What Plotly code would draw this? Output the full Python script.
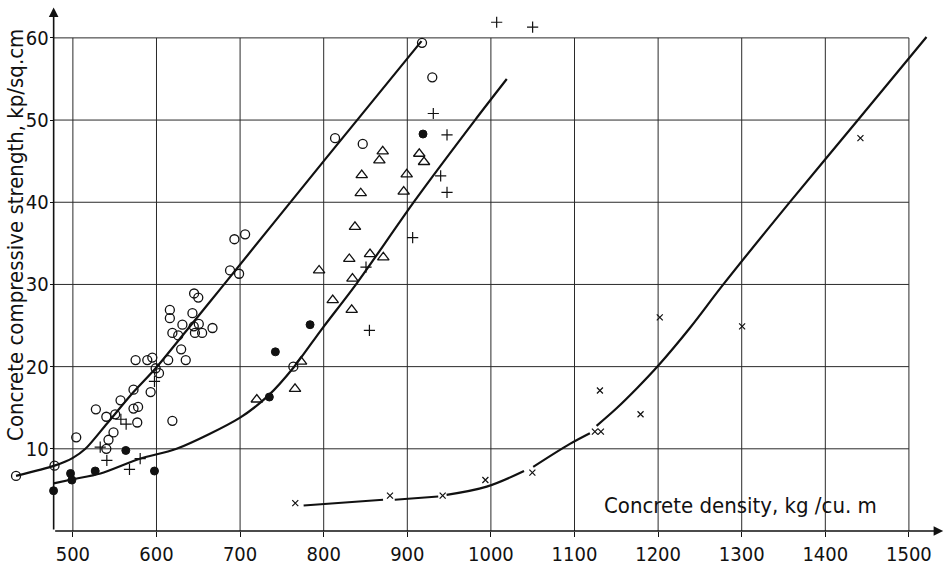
import plotly.graph_objects as go

# ---------------- data ----------------
X_TICKS = [500, 600, 700, 800, 900, 1000, 1100, 1200, 1300, 1400, 1500]
Y_TICKS = [10, 20, 30, 40, 50, 60]

open_circle_x = [432, 478, 504, 527.5, 540, 550.6, 557, 572.5, 575, 540, 542.6, 548.6, 572.5, 578, 577,
                 589, 595, 593, 599, 603, 614, 616, 616, 619, 626, 631, 629.5, 635, 619, 643, 645, 650,
                 644.6, 650.6, 646, 654.6, 667, 693.2, 706, 688, 698.8, 763.7, 813.6, 846.7, 917.6, 929.9]
open_circle_y = [6.7, 7.95, 11.4, 14.8, 13.9, 14.2, 15.9, 17.2, 20.8, 10.0, 11.1, 12.0, 14.9, 15.1, 13.2,
                 20.8, 21.1, 16.9, 19.8, 19.2, 20.8, 26.9, 25.9, 24.1, 23.8, 25.1, 22.1, 20.8, 13.4, 26.5, 28.9, 28.4,
                 24.9, 25.2, 24.1, 24.1, 24.7, 35.5, 36.1, 31.7, 31.3, 20.0, 47.8, 47.1, 59.4, 55.2]

filled_circle_x = [476.9, 497.2, 498.8, 526.7, 563.3, 597.6, 735, 742.2, 783.7, 918.8]
filled_circle_y = [4.9, 7.0, 6.2, 7.3, 9.8, 7.3, 16.3, 21.8, 25.1, 48.3]

plus_x = [532.7, 540.6, 557.4, 563.7, 567.7, 580.5, 597.6, 1006.9, 1049.9, 931.1, 947.5, 939.9, 947.5,
          906.4, 850.6, 854.7]
plus_y = [10.2, 8.6, 13.6, 13.0, 7.5, 8.8, 18.2, 61.9, 61.3, 50.8, 48.2, 43.2, 41.2,
          35.7, 32.1, 24.4]

triangle_x = [720, 765.7, 772.9, 810.8, 833.5, 870.6, 866.6, 914.3, 920, 845.5, 899.3, 844.3, 895.7,
              837.4, 830.6, 855.4, 871.3, 794.5, 834.4]
triangle_y = [16.0, 17.3, 20.6, 28.1, 26.9, 46.2, 45.1, 45.9, 44.9, 43.3, 43.4, 41.1, 41.3,
              37.0, 33.1, 33.7, 33.3, 31.7, 30.7]

cross_x = [766, 879.3, 942.3, 993.4, 1049.6, 1124.4, 1131.6, 1130.4, 1179, 1202, 1300.5, 1442]
cross_y = [3.4, 4.3, 4.3, 6.2, 7.1, 12.1, 12.1, 17.1, 14.2, 26.0, 24.9, 47.8]

curve1_x = [432, 478, 500, 515, 540.6, 572.5, 599, 636, 676, 800, 917]
curve1_y = [6.7, 7.95, 8.9, 10.0, 13.05, 16.9, 19.8, 24.4, 29.4, 45.0, 59.6]

curve2_x = [477, 500, 533, 580, 624, 700, 734, 764, 798, 840, 909, 981, 1019]
curve2_y = [5.8, 6.3, 7.0, 8.8, 10.0, 13.8, 16.5, 19.9, 24.6, 30.2, 40.2, 50.0, 55.0]

# curve 3 is drawn in pieces, interrupted at the plotted points (None = gap)
curve3_x = [776, 871, None, 885, 937, None, 947, 995, 1039.6, None, 1050.6, 1094.5, 1118.4, None,
            1126.4, 1150, 1175, 1200, 1238, 1278, 1359, 1439, 1521]
curve3_y = [3.1, 3.8, None, 3.8, 4.2, None, 4.4, 5.4, 7.3, None, 7.8, 10.6, 11.9, None,
            12.8, 14.9, 17.4, 20.1, 24.7, 30.0, 40.2, 50.0, 60.1]

Y_TITLE = "Concrete compressive strength, kp/sq.cm"
X_TITLE = "Concrete density, kg /cu. m"

# ---------------- style ----------------
FONT = "DejaVu Sans Condensed, Liberation Sans Narrow, DejaVu Sans, sans-serif"
INK = "#111111"
GRID = "#2a2a2a"
X_RANGE = [420, 1530]
Y_RANGE = [0, 64]
AXIS_X = 477

fig = go.Figure()

for cx, cy in [(curve1_x, curve1_y), (curve2_x, curve2_y)]:
    fig.add_trace(go.Scatter(x=cx, y=cy, mode="lines",
                             line=dict(color=INK, width=2.2, shape="spline", smoothing=0.8),
                             hoverinfo="skip", showlegend=False))
fig.add_trace(go.Scatter(x=curve3_x, y=curve3_y, mode="lines", connectgaps=False,
                         line=dict(color=INK, width=2.2, shape="spline", smoothing=1.0),
                         hoverinfo="skip", showlegend=False))

def pts(x, y, symbol, size, lw):
    fig.add_trace(go.Scatter(x=x, y=y, mode="markers", cliponaxis=False, showlegend=False,
                             marker=dict(symbol=symbol, size=size, color=INK,
                                         line=dict(color=INK, width=lw))))

pts(open_circle_x, open_circle_y, "circle-open", 9, 1.3)
pts(filled_circle_x, filled_circle_y, "circle", 8, 1)
pts(triangle_x, triangle_y, "triangle-up-open", 10, 1.3)
pts(plus_x, plus_y, "cross-thin-open", 8, 1.2)
pts(cross_x, cross_y, "x-thin-open", 6, 1.2)

shapes = []
for xv in X_TICKS:
    shapes.append(dict(type="line", xref="x", yref="y", x0=xv, x1=xv, y0=0, y1=max(Y_TICKS),
                       line=dict(color=GRID, width=1), layer="below"))
for yv in Y_TICKS:
    shapes.append(dict(type="line", xref="x", yref="y", x0=AXIS_X, x1=max(X_TICKS), y0=yv, y1=yv,
                       line=dict(color=GRID, width=1), layer="below"))

annotations = [
    # axes with arrow heads
    dict(x=1541, y=0, ax=AXIS_X, ay=0, xref="x", yref="y", axref="x", ayref="y",
         showarrow=True, arrowhead=2, arrowsize=1.2, arrowwidth=1.6, arrowcolor=INK, text=""),
    dict(x=AXIS_X, y=63.7, ax=AXIS_X, ay=0, xref="x", yref="y", axref="x", ayref="y",
         showarrow=True, arrowhead=2, arrowsize=1.2, arrowwidth=1.6, arrowcolor=INK, text=""),
    dict(x=16, y=238, xref="paper", yref="paper", text=Y_TITLE, showarrow=False, textangle=-90,
         xanchor="center", yanchor="middle", font=dict(family=FONT, size=22, color=INK)),
    dict(x=740, y=512, xref="paper", yref="paper", text=X_TITLE, showarrow=False,
         xanchor="center", yanchor="middle", font=dict(family=FONT, size=22, color=INK)),
]

W, H = 944, 571
ML, MR, MT, MB = 6, 10, 5, 33
# convert the pixel-placed title annotations into paper fractions
for a in annotations[2:]:
    a["x"] = (a["x"] - ML) / (W - ML - MR)
    a["y"] = 1 - (a["y"] - MT) / (H - MT - MB)

fig.update_layout(
    width=W, height=H,
    margin=dict(l=ML, r=MR, t=MT, b=MB),
    paper_bgcolor="white", plot_bgcolor="white",
    font=dict(family=FONT, size=20, color=INK),
    shapes=shapes, annotations=annotations,
    xaxis=dict(range=X_RANGE, tickvals=X_TICKS, ticks="outside", ticklen=5, tickcolor=INK,
               showgrid=False, zeroline=False, showline=False,
               tickfont=dict(family=FONT, size=20, color=INK)),
    yaxis=dict(range=Y_RANGE, tickvals=Y_TICKS, ticks="outside", ticklen=4, tickcolor=INK,
               anchor="free", position=(AXIS_X - X_RANGE[0]) / (X_RANGE[1] - X_RANGE[0]),
               showgrid=False, zeroline=False, showline=False, ticklabelstandoff=-3,
               tickfont=dict(family=FONT, size=20, color=INK)),
)

fig.write_html("out.html")
